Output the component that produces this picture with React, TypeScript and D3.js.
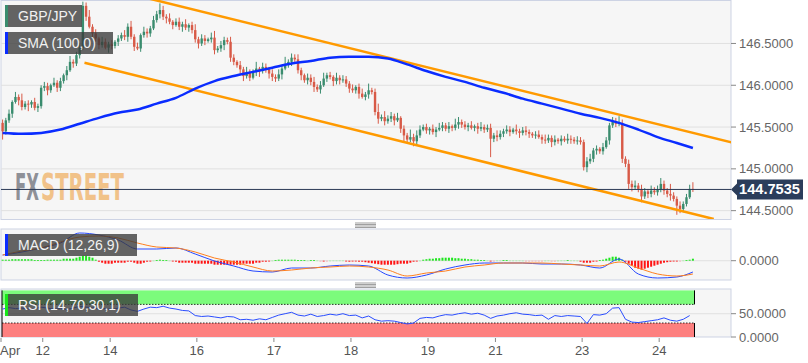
// GBP/JPY 1H — bougies + SMA(100) + canal baissier, MACD et RSI en panneaux
import { useLayoutEffect, useRef, useState } from 'react';
import * as d3 from 'd3';

// ── Données ───────────────────────────────────────────────
const FIRST_OPEN = 145.55;
const CLOSE = [
  145.45, 145.58, 145.66, 145.80, 145.86, 145.82, 145.74, 145.78, 145.77, 145.80, 145.73, 145.75,
  145.97, 145.99, 145.94, 146.00, 146.03, 145.97, 146.05, 146.12, 146.18, 146.28, 146.26, 146.36,
  146.45, 146.95, 146.82, 146.70, 146.62, 146.56, 146.48, 146.52, 146.45, 146.49, 146.47, 146.52,
  146.56, 146.60, 146.58, 146.70, 146.58, 146.46, 146.44, 146.60, 146.64, 146.62, 146.68, 146.78,
  146.85, 146.90, 146.82, 146.80, 146.76, 146.72, 146.76, 146.70, 146.73, 146.69, 146.72, 146.66,
  146.55, 146.50, 146.56, 146.53, 146.55, 146.57, 146.42, 146.44, 146.48, 146.54, 146.52, 146.33,
  146.28, 146.24, 146.19, 146.11, 146.15, 146.09, 146.16, 146.20, 146.17, 146.22, 146.19, 146.14,
  146.10, 146.08, 146.13, 146.20, 146.25, 146.28, 146.33, 146.31, 146.18, 146.12, 146.06, 146.09,
  146.04, 145.98, 145.95, 146.00, 146.08, 146.12, 146.10, 146.05, 146.09, 146.06, 146.07, 146.02,
  145.96, 145.94, 145.98, 145.90, 145.86, 145.89, 145.94, 145.92, 145.68, 145.60, 145.62, 145.57,
  145.60, 145.63, 145.58, 145.61, 145.48, 145.40, 145.35, 145.38, 145.33, 145.40, 145.47, 145.50,
  145.46, 145.48, 145.44, 145.47, 145.49, 145.52, 145.48, 145.51, 145.49, 145.53, 145.56, 145.53,
  145.50, 145.52, 145.49, 145.51, 145.48, 145.50, 145.47, 145.49, 145.36, 145.40, 145.38, 145.42,
  145.45, 145.47, 145.44, 145.47, 145.45, 145.43, 145.46, 145.44, 145.42, 145.40, 145.41, 145.38,
  145.35, 145.34, 145.37, 145.32, 145.35, 145.33, 145.36, 145.34, 145.36, 145.35, 145.33, 145.34,
  145.32, 145.02, 145.09, 145.12, 145.22, 145.24, 145.21, 145.26, 145.34, 145.52, 145.56, 145.54,
  145.55, 145.12, 145.06, 144.82, 144.78, 144.80, 144.76, 144.67, 144.73, 144.70, 144.74, 144.72,
  144.75, 144.82, 144.74, 144.70, 144.68, 144.64, 144.56, 144.52, 144.58, 144.66, 144.76, 144.7535,
];
// mèches en pips (0.01) au-dessus / au-dessous du corps
const WICK_UP = [
  4, 3, 5, 2, 6, 3, 8, 3, 4, 2, 5, 3,  3, 5, 4, 2, 6, 3, 4, 2, 5, 7, 3, 4,
  6, 5, 4, 8, 3, 5, 2, 6, 4, 3, 5, 2,  4, 3, 6, 4, 7, 3, 5, 2, 6, 4, 3, 5,
  4, 8, 5, 3, 6, 2, 4, 5, 3, 6, 2, 4,  7, 3, 5, 4, 2, 6, 8, 3, 5, 4, 3, 6,
  4, 2, 5, 3, 7, 4, 3, 8, 2, 5, 4, 3,  5, 3, 6, 4, 9, 3, 5, 4, 6, 3, 2, 5,
  4, 6, 3, 5, 7, 3, 4, 2, 6, 3, 5, 4,  3, 5, 2, 4, 6, 3, 8, 3, 4, 10, 3, 7,
  4, 5, 3, 6, 2, 4, 3, 9, 4, 6, 5, 3,  4, 2, 5, 3, 6, 4, 3, 5, 2, 7, 6, 3,
  4, 3, 5, 2, 4, 6, 3, 4, 5, 3, 6, 4,  3, 5, 4, 2, 6, 3, 4, 5, 3, 2, 4, 5,
  3, 6, 4, 3, 5, 2, 4, 3, 6, 4, 3, 5,  4, 3, 5, 6, 3, 4, 2, 5, 4, 3, 6, 5,
  8, 4, 3, 5, 4, 6, 3, 5, 4, 3, 6, 4,  5, 7, 4, 3, 12, 4, 3, 5, 3, 4, 5, 8,
];
const WICK_DN = [
  10, 4, 3, 5, 2, 6, 4, 3, 8, 4, 3, 5,  3, 4, 6, 3, 2, 5, 4, 3, 6, 2, 5, 3,
  4, 3, 5, 2, 6, 4, 5, 3, 2, 6, 4, 3,  5, 3, 4, 6, 3, 5, 2, 4, 3, 5, 4, 2,
  3, 5, 4, 6, 3, 5, 2, 4, 6, 3, 5, 4,  4, 6, 3, 5, 2, 4, 5, 3, 4, 6, 3, 5,
  4, 3, 5, 6, 3, 4, 2, 5, 7, 3, 4, 6,  5, 4, 3, 6, 2, 4, 5, 3, 4, 6, 3, 5,
  4, 6, 3, 5, 2, 4, 3, 6, 4, 5, 3, 4,  5, 3, 4, 6, 2, 4, 5, 3, 4, 6, 3, 5,
  3, 4, 6, 2, 5, 8, 4, 3, 6, 4, 3, 2,  4, 5, 3, 6, 2, 4, 3, 5, 4, 3, 5, 4,
  3, 5, 2, 4, 6, 3, 4, 3, 22, 4, 5, 3,  4, 3, 5, 2, 4, 6, 3, 4, 5, 3, 4, 2,
  5, 4, 3, 6, 4, 3, 5, 2, 4, 5, 3, 4,  3, 4, 6, 3, 4, 5, 3, 4, 2, 5, 3, 4,
  3, 5, 4, 6, 5, 3, 4, 7, 3, 5, 4, 3,  4, 3, 5, 4, 6, 3, 11, 5, 4, 3, 2, 3,
];

// SMA(100), MACD et signal relevés toutes les 6 bougies
const SAMPLE_IDX = [
  0, 6, 12, 18, 24, 30, 36, 42, 48, 54, 60, 66, 72, 78, 84, 90, 96, 102, 108,
  114, 120, 126, 132, 138, 144, 150, 156, 162, 168, 174, 180, 186, 192, 198, 204, 210, 215,
];
const SMA = [
  145.43, 145.42, 145.43, 145.47, 145.54, 145.61, 145.67, 145.71, 145.78, 145.85,
  145.96, 146.05, 146.11, 146.16, 146.21, 146.26, 146.29, 146.33, 146.34, 146.34,
  146.32, 146.25, 146.17, 146.10, 146.04, 145.97, 145.91, 145.84, 145.78, 145.72,
  145.66, 145.61, 145.55, 145.47, 145.38, 145.31, 145.25,
];
const MACD = [
  0.057, 0.087, 0.127, 0.177, 0.277, 0.257, 0.207, 0.117, 0.117, 0.127,
  0.067, -0.003, -0.053, -0.103, -0.113, -0.073, -0.073, -0.053, -0.043, -0.053,
  -0.143, -0.173, -0.143, -0.083, -0.043, -0.023, -0.023, -0.023, -0.033, -0.033,
  -0.043, -0.073, 0.017, -0.133, -0.173, -0.163, -0.113,
];
const SIGNAL = [
  0.057, 0.097, 0.127, 0.187, 0.237, 0.247, 0.227, 0.177, 0.137, 0.127,
  0.087, 0.027, -0.013, -0.063, -0.103, -0.093, -0.073, -0.063, -0.053, -0.063,
  -0.093, -0.153, -0.123, -0.103, -0.063, -0.043, -0.023, -0.023, -0.023, -0.033,
  -0.043, -0.053, -0.013, -0.073, -0.133, -0.153, -0.133,
];
// histogramme MACD, une barre par bougie
const HIST = [
  .01, .01, .01, .015, .015, .015, .015, .015, .015, .015, .005, .005,
  .005, .005, .01, .01, .01, .01, .01, .02, .02, .02, .02, .03,
  .04, .05, .05, .04, .03, .01, -.01, -.02, -.03, -.03, -.03, -.02,
  -.02, -.02, -.02, -.01, -.01, -.02, -.03, -.03, -.02, -.01, -.005, .002,
  .005, .01, .005, .005, .002, -.005, -.01, -.02, -.02, -.02, -.02, -.02,
  -.03, -.03, -.03, -.03, -.03, -.03, -.04, -.04, -.04, -.04, -.04, -.04,
  -.04, -.04, -.04, -.03, -.03, -.03, -.03, -.02, -.02, -.01, -.01, -.005,
  .002, .005, .01, .01, .01, .01, .01, .01, .005, .005, .005, .003,
  .005, .005, .003, -.003, -.005, -.003, .002, .003, .003, .003, .003, -.005,
  -.01, -.005, -.005, -.01, -.01, -.015, -.02, -.025, -.03, -.035, -.04, -.04,
  -.04, -.04, -.04, -.035, -.03, -.03, -.03, -.02, -.01, -.005, .002, .01,
  .015, .02, .02, .025, .025, .03, .03, .03, .03, .025, .025, .02,
  .02, .015, .015, .01, .01, .005, .005, .003, -.005, -.003, .003, .003,
  .005, .005, .003, .003, .003, .003, .002, -.002, -.003, -.003, -.003, -.002,
  -.003, .002, .003, -.002, -.003, .002, .003, .003, .005, .003, .003, .002,
  -.01, -.02, -.02, -.02, -.01, -.005, .005, .01, .02, .03, .04, .04,
  .03, .01, -.01, -.03, -.05, -.07, -.08, -.09, -.08, -.07, -.06, -.05,
  -.04, -.03, -.02, -.015, -.01, -.005, -.005, -.003, .003, .005, .01, .02,
];
// RSI(14), une valeur toutes les 2 bougies
const RSI = [
  60, 63, 61, 62, 60, 61, 64, 62, 60, 61, 59, 62,
  66, 64, 63, 60, 61, 59, 62, 64, 58, 55, 60, 64,
  63, 66, 62, 60, 57, 56, 46, 44, 45, 43, 41, 44,
  43, 37, 38, 36, 39, 37, 42, 47, 50, 53, 47, 45,
  49, 44, 46, 49, 47, 50, 46, 47, 41, 45, 37, 34,
  35, 34, 31, 28, 30, 40, 42, 41, 45, 48, 47, 50,
  52, 49, 51, 47, 40, 45, 47, 50, 52, 49, 48, 46,
  47, 38, 46, 44, 46, 45, 44, 29, 48, 47, 50, 62,
  63, 38, 32, 31, 33, 35, 37, 41, 36, 34, 38, 46,
];

// canal baissier : [indice bougie, prix]
const CHANNEL_UPPER = [[40, 147.09], [232, 145.27]];
const CHANNEL_LOWER = [[25.5, 146.27], [221.5, 144.40]];

const X_TICK_IDX = [0, 13, 34, 61, 85, 109, 133, 154, 181, 205];
const X_TICK_LABELS = ['Apr', '12', '14', '16', '17', '18', '19', '21', '23', '24'];
const PRICE_TICKS = [144.5, 145.0, 145.5, 146.0, 146.5];
const LAST_PRICE = 144.7535;

// ── Mise en page ──────────────────────────────────────────
const W = 808, H = 363;
const PL = 1, PR = 731;
const MAIN = { top: 0, bottom: 219 };
const MACD_P = { top: 229, bottom: 280 };
const RSI_P = { top: 289, bottom: 337 };
const FONT = '"Liberation Sans", Arial, sans-serif';
const UP = '#3a8c6e';
const DOWN = '#d85a47';

function Tag({ y, w, text, color }: { y: number; w: number; text: string; color: string }) {
  return (
    <g>
      <rect x={5} y={y} width={w} height={22} fill="#3a3a3a" opacity={0.78} />
      <rect x={5} y={y} width={3} height={22} fill={color} />
      <text x={18} y={y + 16} fill="#f2f2f2" fontSize={14} fontFamily={FONT}>{text}</text>
    </g>
  );
}

function Splitter({ y }: { y: number }) {
  return (
    <g stroke="#777" strokeWidth={0.7}>
      {[0, 1.5, 3, 4.5].map(d => <line key={d} x1={355} x2={376} y1={y + d} y2={y + d} />)}
    </g>
  );
}

// texte étiré horizontalement pour tenir dans une largeur donnée (filigrane)
function FitText({ x, y, width, fill, children }: { x: number; y: number; width: number; fill: string; children: string }) {
  const ref = useRef<SVGTextElement>(null);
  const [sx, setSx] = useState(0.7);
  useLayoutEffect(() => {
    const natural = ref.current?.getComputedTextLength() ?? 0;
    if (natural > 0) setSx(width / natural);
  }, [width]);
  return (
    <g transform={`translate(${x},${y}) scale(${sx},1)`}>
      <text ref={ref} x={0} y={0} fill={fill} fontSize={37} fontWeight="bold"
        fontFamily='"Liberation Sans Narrow", "DejaVu Sans Condensed", sans-serif'>{children}</text>
    </g>
  );
}

export default function App() {
  const n = CLOSE.length;
  const x = d3.scaleLinear().domain([0, n]).range([PL, 694.5]);
  const cx = (i: number) => x(i + 0.5);
  const y = d3.scaleLinear().domain([144.4, 147.02]).range([MAIN.bottom, MAIN.top]);
  const yM = d3.scaleLinear().domain([-0.193, 0.317]).range([MACD_P.bottom, MACD_P.top]);
  const yR = d3.scaleLinear().domain([0, 100]).range([RSI_P.bottom, 290.4]);

  const candles = CLOSE.map((c, i) => {
    const o = i === 0 ? FIRST_OPEN : CLOSE[i - 1];
    const hi = Math.max(o, c) + WICK_UP[i] / 100;
    const lo = Math.min(o, c) - WICK_DN[i] / 100;
    return { i, o, c, hi, lo, up: c >= o };
  });

  const sampled = (vals: number[]) => SAMPLE_IDX.map((idx, k) => [cx(idx), vals[k]] as [number, number]);
  const smaPath = d3.line<[number, number]>().x(d => d[0]).y(d => y(d[1])).curve(d3.curveMonotoneX)(sampled(SMA));
  const macdLine = d3.line<[number, number]>().x(d => d[0]).y(d => yM(d[1])).curve(d3.curveMonotoneX);
  const rsiPath = d3.line<number>().x((_, k) => cx(k * 2)).y(v => yR(v))(RSI);
  const chan = (pts: number[][]) => d3.line<number[]>().x(p => x(p[0] + 0.5)).y(p => y(p[1]))(pts);

  const histColor = (v: number) => {
    if (v >= 0) return v < 0.004 ? '#a6eea6' : '#1ee61e';
    return v > -0.004 ? '#f4a8a8' : '#ff1414';
  };

  const bandX1 = x(n);
  const lastY = y(LAST_PRICE);

  return (
    <div style={{ position: 'absolute', left: 0, top: 0, width: W, height: H, background: '#fff' }}>
      <svg width={W} height={H} style={{ display: 'block' }}>
        <defs>
          <clipPath id="clip-main"><rect x={PL} y={MAIN.top} width={PR - PL} height={MAIN.bottom - MAIN.top} /></clipPath>
          <clipPath id="clip-macd"><rect x={PL} y={MACD_P.top} width={PR - PL} height={MACD_P.bottom - MACD_P.top} /></clipPath>
          <clipPath id="clip-rsi"><rect x={PL} y={RSI_P.top} width={PR - PL} height={RSI_P.bottom - RSI_P.top} /></clipPath>
        </defs>

        {/* ── Panneau principal ── */}
        <rect x={PL} y={MAIN.top + 0.5} width={PR - PL} height={MAIN.bottom - MAIN.top} fill="#f6f6f6" stroke="#cdd3e4" />
        {PRICE_TICKS.map(p => (
          <g key={p}>
            <line x1={PL} x2={PR} y1={y(p)} y2={y(p)} stroke="#e0e0e0" />
            <line x1={PR} x2={PR + 5} y1={y(p)} y2={y(p)} stroke="#888" />
            <text x={PR + 8} y={y(p)} dy="0.35em" fill="#666" fontSize={13} fontFamily={FONT}>{p.toFixed(4)}</text>
          </g>
        ))}

        {/* filigrane FXSTREET */}
        <FitText x={15} y={200} width={24} fill="#8e9097">FX</FitText>
        <FitText x={41} y={200} width={83} fill="#f1c289">STREET</FitText>

        <g clipPath="url(#clip-main)">
          {candles.map(d => (
            <g key={d.i} fill={d.up ? UP : DOWN} stroke={d.up ? UP : DOWN}>
              <line x1={cx(d.i)} x2={cx(d.i)} y1={y(d.hi)} y2={y(d.lo)} strokeWidth={1} />
              <rect x={cx(d.i) - 1.2} width={2.4} y={y(Math.max(d.o, d.c))}
                height={Math.max(1, Math.abs(y(d.o) - y(d.c)))} stroke="none" />
            </g>
          ))}
          <path d={chan(CHANNEL_UPPER) ?? ''} stroke="#ff9a00" strokeWidth={2.5} fill="none" />
          <path d={chan(CHANNEL_LOWER) ?? ''} stroke="#ff9a00" strokeWidth={2.5} fill="none" />
          <path d={smaPath ?? ''} stroke="#0a2cff" strokeWidth={2.5} fill="none" />
        </g>

        {/* dernier cours */}
        <line x1={PL} x2={PR} y1={lastY} y2={lastY} stroke="#2b3a55" strokeWidth={1} />
        <path d={`M${PR},${lastY} L${PR + 6},${lastY - 6} V${lastY - 10} H${W - 5} V${lastY + 10} H${PR + 6} V${lastY + 6} Z`} fill="#2b3d5b" />
        <text x={PR + 8} y={lastY} dy="0.36em" fill="#fff" fontSize={14} fontWeight="bold" fontFamily={FONT}
          textLength={61} lengthAdjust="spacingAndGlyphs">
          {LAST_PRICE.toFixed(4)}
        </text>

        <Tag y={5} w={77} text="GBP/JPY" color={UP} />
        <Tag y={32} w={108} text="SMA (100,0)" color="#0a2cff" />

        {/* ── MACD ── */}
        <Splitter y={223} />
        <rect x={PL} y={MACD_P.top} width={PR - PL} height={MACD_P.bottom - MACD_P.top} fill="#f6f6f6" stroke="#cdd3e4" />
        <line x1={PL} x2={PR} y1={yM(0)} y2={yM(0)} stroke="#e0e0e0" />
        <line x1={PR} x2={PR + 5} y1={yM(0)} y2={yM(0)} stroke="#888" />
        <text x={PR + 8} y={yM(0)} dy="0.35em" fill="#666" fontSize={13} fontFamily={FONT}>0.0000</text>
        <g clipPath="url(#clip-macd)">
          {HIST.map((v, i) => (
            <rect key={i} x={cx(i) - 1} width={2} y={Math.min(yM(0), yM(v))}
              height={Math.max(0.8, Math.abs(yM(v) - yM(0)))} fill={histColor(v)} />
          ))}
          <path d={macdLine(sampled(MACD)) ?? ''} stroke="#2648ff" strokeWidth={1} fill="none" />
          <path d={macdLine(sampled(SIGNAL)) ?? ''} stroke="#ff7f1e" strokeWidth={1} fill="none" />
        </g>
        <Tag y={234} w={132} text="MACD (12,26,9)" color="#0a2cff" />

        {/* ── RSI ── */}
        <Splitter y={283} />
        <rect x={PL} y={RSI_P.top} width={PR - PL} height={RSI_P.bottom - RSI_P.top} fill="#f6f6f6" stroke="#cdd3e4" />
        <line x1={PL} x2={PR} y1={yR(50)} y2={yR(50)} stroke="#e0e0e0" />
        <g clipPath="url(#clip-rsi)">
          <rect x={PL + 1} width={bandX1 - PL - 1} y={yR(100)} height={yR(70) - yR(100)} fill="#7cfb7c" />
          <rect x={PL + 1} width={bandX1 - PL - 1} y={yR(30)} height={yR(0) - yR(30)} fill="#fd7f7f" />
          <line x1={PL + 1} x2={bandX1} y1={yR(70)} y2={yR(70)} stroke="#000" strokeDasharray="1.5,1.5" strokeWidth={0.8} />
          <line x1={PL + 1} x2={bandX1} y1={yR(30)} y2={yR(30)} stroke="#000" strokeDasharray="1.5,1.5" strokeWidth={0.8} />
          <line x1={bandX1} x2={bandX1} y1={yR(100)} y2={yR(70)} stroke="#000" strokeWidth={1} />
          <line x1={bandX1} x2={bandX1} y1={yR(30)} y2={yR(0)} stroke="#000" strokeWidth={1} />
          <line x1={PL + 1} x2={PL + 1} y1={yR(100)} y2={yR(0)} stroke="#000" strokeWidth={1} />
          <path d={rsiPath ?? ''} stroke="#2a4dff" strokeWidth={1} fill="none" />
        </g>
        {[50, 0].map(v => (
          <g key={v}>
            <line x1={PR} x2={PR + 5} y1={yR(v)} y2={yR(v)} stroke="#888" />
            <text x={PR + 8} y={yR(v)} dy="0.35em" fill="#666" fontSize={13} fontFamily={FONT}>{v.toFixed(4)}</text>
          </g>
        ))}
        <Tag y={294} w={133} text="RSI (14,70,30,1)" color="#18e818" />

        {/* ── Axe des temps ── */}
        {X_TICK_IDX.map((idx, k) => (
          <g key={k}>
            <line x1={x(idx)} x2={x(idx)} y1={RSI_P.bottom + 1} y2={RSI_P.bottom + 5} stroke="#888" />
            <text x={k === 0 ? 0 : x(idx)} y={355} textAnchor={k === 0 ? 'start' : 'middle'}
              fill="#555" fontSize={13} fontFamily={FONT}>{X_TICK_LABELS[k]}</text>
          </g>
        ))}
      </svg>
    </div>
  );
}
